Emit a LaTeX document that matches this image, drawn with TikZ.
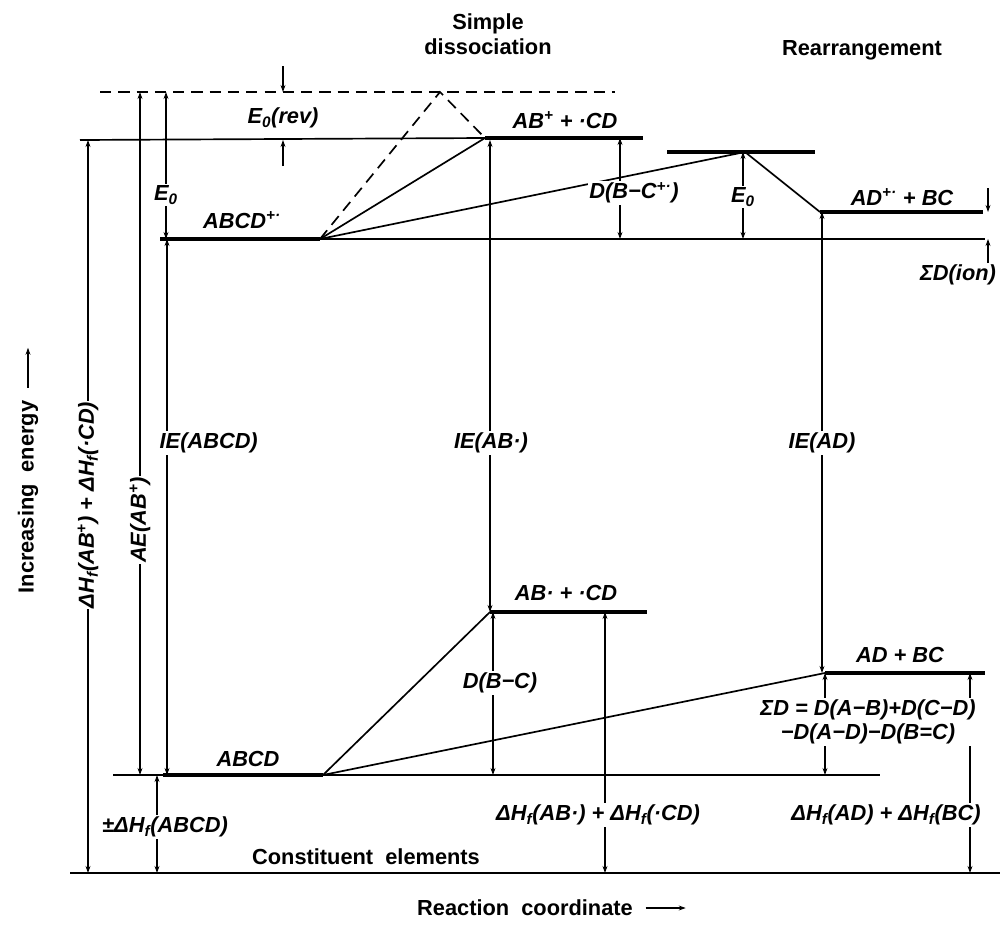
\documentclass[tikz,border=0pt]{standalone}
\usepackage{fontspec}
\setmainfont{Liberation Sans}
\usetikzlibrary{arrows.meta}
\begin{document}
\begin{tikzpicture}[x=0.025cm,y=-0.025cm,
  bar/.style={line width=3.5pt},
  thinline/.style={line width=1.2pt},
  dashline/.style={line width=1.2pt, dash pattern=on 8pt off 5pt},
  dimline/.style={line width=1.2pt, {Stealth[length=5pt,width=3.5pt]}-{Stealth[length=5pt,width=3.5pt]}},
  oneway/.style={line width=1.2pt, -{Stealth[length=5pt,width=3.5pt]}},
  lab/.style={font=\fontsize{15.5}{17.5}\selectfont\bfseries\itshape, inner sep=1pt},
  labw/.style={lab, fill=white},
  txt/.style={font=\fontsize{15.5}{17.5}\selectfont\bfseries, inner sep=1pt}]
\useasboundingbox (0,0) rectangle (1001,928);

% ---- level coordinates ----
\coordinate (dashL) at (100,92);  \coordinate (dashR) at (615,92);  \coordinate (peak) at (440,92);
\coordinate (ionL) at (80,140);   \coordinate (abpL) at (485,138);  \coordinate (abpR) at (643,138);
\coordinate (mL) at (160,239);    \coordinate (mR) at (320,239);    \coordinate (ionRefR) at (985,239);
\coordinate (tsL) at (667,152);   \coordinate (tsR) at (815,152);   \coordinate (ts) at (745,152);
\coordinate (adpL) at (820,212);  \coordinate (adpR) at (983,212);
\coordinate (abrL) at (490,612);  \coordinate (abrR) at (647,612);
\coordinate (adL) at (825,673);   \coordinate (adR) at (985,673);
\coordinate (nL) at (113,775);    \coordinate (nTL) at (163,775);   \coordinate (nR) at (323,775);  \coordinate (nRefR) at (880,775);
\coordinate (bL) at (70,873);     \coordinate (bR) at (1000,873);

% ---- level lines ----
\draw[dashline] (dashL) -- (dashR);
\draw[thinline] (ionL) -- (abpL);
\draw[bar] (abpL) -- (abpR);
\draw[bar] (mL) -- (mR);
\draw[thinline] (mR) -- (ionRefR);
\draw[bar] (tsL) -- (tsR);
\draw[bar] (adpL) -- (adpR);
\draw[bar] (abrL) -- (abrR);
\draw[bar] (adL) -- (adR);
\draw[thinline] (nL) -- (nTL);
\draw[bar] (nTL) -- (nR);
\draw[thinline] (nR) -- (nRefR);
\draw[line width=2pt] (bL) -- (bR);

% ---- reaction paths ----
\draw[dashline] (mR) -- (peak) -- (abpL);
\draw[thinline] (mR) -- (abpL);
\draw[thinline] (mR) -- (ts);
\draw[thinline] (ts) -- (adpL);
\draw[thinline] (nR) -- (abrL);
\draw[thinline] (nR) -- (adL);

% ---- dimension arrow end points ----
\coordinate (a1t) at (88,140);  \coordinate (a1b) at (88,873);
\coordinate (a2t) at (140,92);  \coordinate (a2b) at (140,775);
\coordinate (a3t) at (166,92);  \coordinate (a3b) at (166,239);
\coordinate (a4t) at (167,239); \coordinate (a4b) at (167,775);
\coordinate (a5t) at (283,66);  \coordinate (a5b) at (283,92);
\coordinate (a6t) at (283,140); \coordinate (a6b) at (283,166);
\coordinate (a7t) at (490,140); \coordinate (a7b) at (490,612);
\coordinate (a8t) at (620,138); \coordinate (a8b) at (620,239);
\coordinate (a9t) at (743,152); \coordinate (a9b) at (743,239);
\coordinate (a10t) at (822,212); \coordinate (a10b) at (822,673);
\coordinate (a11t) at (988,188); \coordinate (a11b) at (988,212);
\coordinate (a12t) at (988,239); \coordinate (a12b) at (988,263);
\coordinate (a13t) at (493,612); \coordinate (a13b) at (493,775);
\coordinate (a14t) at (605,612); \coordinate (a14b) at (605,873);
\coordinate (a15t) at (825,673); \coordinate (a15b) at (825,775);
\coordinate (a16t) at (970,673); \coordinate (a16b) at (970,873);
\coordinate (a17t) at (157,775); \coordinate (a17b) at (157,873);

\draw[dimline] (a1t) -- (a1b);
\draw[dimline] (a2t) -- (a2b);
\draw[dimline] (a3t) -- (a3b);
\draw[dimline] (a4t) -- (a4b);
\draw[oneway] (a5t) -- (a5b);
\draw[oneway] (a6b) -- (a6t);
\draw[dimline] (a7t) -- (a7b);
\draw[dimline] (a8t) -- (a8b);
\draw[dimline] (a9t) -- (a9b);
\draw[dimline] (a10t) -- (a10b);
\draw[oneway] (a11t) -- (a11b);
\draw[oneway] (a12b) -- (a12t);
\draw[dimline] (a13t) -- (a13b);
\draw[dimline] (a14t) -- (a14b);
\draw[dimline] (a15t) -- (a15b);
\draw[dimline] (a16t) -- (a16b);
\draw[dimline] (a17t) -- (a17b);

% ---- labels ----
\node[txt, align=center] (tSimple) at (488,34) {Simple\\dissociation};
\node[txt] (tRear) at (862,50) {Rearrangement};
\node[lab] (lE0rev) at (283,118) {E\textsubscript{0}(rev)};
\node[lab] (lABp) at (565,120) {AB\textsuperscript{+} + ·CD};
\node[labw] (lE0a) at (166,195) {E\textsubscript{0}};
\node[lab] (lM) at (242,220) {ABCD\textsuperscript{+·}};
\node[labw] (lDBC) at (634,193) {D(B−C\textsuperscript{+·})};
\node[labw] (lE0b) at (743,197) {E\textsubscript{0}};
\node[lab] (lADp) at (902,197) {AD\textsuperscript{+·} + BC};
\node[lab] (lSDion) at (958,275) {ΣD(ion)};
\node[labw, anchor=west] (lIE1) at (158,443) {IE(ABCD)};
\node[labw] (lIE2) at (491,443) {IE(AB·)};
\node[labw] (lIE3) at (822,443) {IE(AD)};
\node[labw, rotate=90] (lHf1) at (88,505) {ΔH\textsubscript{f}(AB\textsuperscript{+}) + ΔH\textsubscript{f}(·CD)};
\node[labw, rotate=90] (lAE) at (140,520) {AE(AB\textsuperscript{+})};
\node[txt, rotate=90] (lInc) at (28,497) {Increasing\ \ energy};
\draw[oneway] ([yshift=8pt]lInc.east) -- ++(0,-40);
\node[lab] (lABr) at (566,593) {AB· + ·CD};
\node[labw] (lDBC2) at (500,683) {D(B−C)};
\node[lab] (lAD) at (900,655) {AD + BC};
\node[labw, align=center] (lSD) at (868,722) {ΣD = D(A−B)+D(C−D)\\−D(A−D)−D(B=C)};
\node[labw] (lHf2) at (598,815) {ΔH\textsubscript{f}(AB·) + ΔH\textsubscript{f}(·CD)};
\node[labw] (lHf3) at (886,815) {ΔH\textsubscript{f}(AD) + ΔH\textsubscript{f}(BC)};
\node[labw] (lHf4) at (165,827) {±ΔH\textsubscript{f}(ABCD)};
\node[lab] (lN) at (248,759) {ABCD};
\node[txt] (lCE) at (366,857) {Constituent\ \ elements};
\node[txt] (lRC) at (525,908) {Reaction\ \ coordinate};
\draw[oneway] ([xshift=8pt]lRC.east) -- ++(40,0);
\end{tikzpicture}
\end{document}
